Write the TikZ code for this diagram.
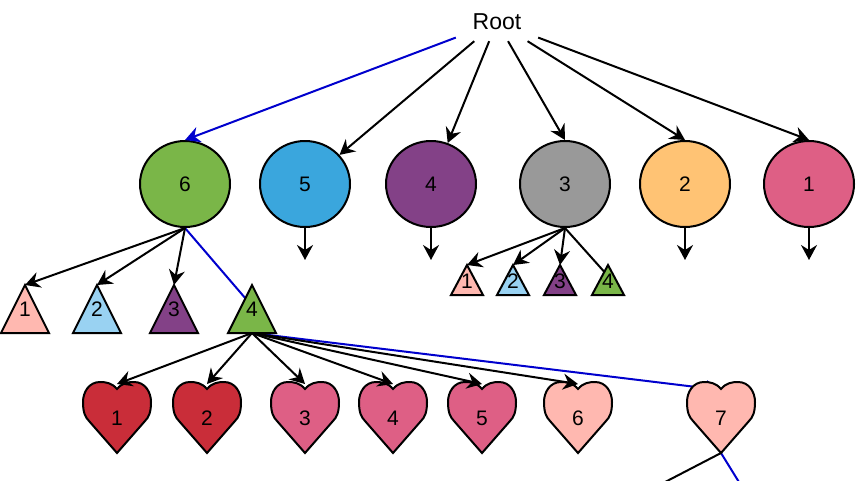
\documentclass[tikz,border=0pt]{standalone}
\usepackage{fontspec}
\setmainfont{Liberation Sans}
\usetikzlibrary{arrows.meta,shapes.geometric}
\pgfdeclarelayer{bg}
\pgfsetlayers{bg,main}
\definecolor{cgreen}{HTML}{7AB648}
\definecolor{cblue}{HTML}{3AA6DD}
\definecolor{cpurple}{HTML}{834187}
\definecolor{cgray}{HTML}{999999}
\definecolor{corange}{HTML}{FFC374}
\definecolor{cpink}{HTML}{DE5F85}
\definecolor{csalmon}{HTML}{FFB8B0}
\definecolor{clight}{HTML}{99D2F2}
\definecolor{cred}{HTML}{C92D39}
\definecolor{hl}{RGB}{0,0,205}
\tikzset{
  lw/.style={line width=2pt},
  circ/.style={ellipse, draw=black, lw, minimum width=90pt, minimum height=86pt, inner sep=0pt, font=\fontsize{21}{25}\selectfont},
  lbl/.style={inner sep=0pt, font=\fontsize{21}{25}\selectfont},
  arr/.style={lw, -{Stealth[length=15pt,width=16pt,inset=5pt]}},
  plain/.style={lw},
}
% triangle: name, cx, top y, half width, height, colour, label, label y
\newcommand\mytri[8]{%
  \filldraw[fill=#6, draw=black, lw, line join=miter] ({#2-#4},{#3+#5}) -- (#2,#3) -- ({#2+#4},{#3+#5}) -- cycle;
  \node[lbl] (#1) at (#2,#8) {#7};
  \coordinate (#1top) at (#2,#3);
  \coordinate (#1bot) at (#2,{#3+#5});
}
% heart: name, cx, colour, label
\newcommand\myheart[4]{%
  \begin{scope}[shift={(#2,418)}]
    \filldraw[fill=#3, draw=black, lw, line join=miter]
      (0,-29) .. controls (5,-35) and (11,-36) .. (17,-36)
      .. controls (28,-36) and (34,-26) .. (34,-16)
      .. controls (34,-6) and (32,-1) .. (28,3) -- (0,35) -- (-28,3)
      .. controls (-32,-1) and (-34,-6) .. (-34,-16)
      .. controls (-34,-26) and (-28,-36) .. (-17,-36)
      .. controls (-11,-36) and (-5,-35) .. (0,-29) -- cycle;
    \node[lbl] (#1) at (0,0) {#4};
    \coordinate (#1top) at (0,-34);
    \coordinate (#1tip) at (0,35);
  \end{scope}
}
\begin{document}
\begin{tikzpicture}[x=1pt,y=-1pt]
\useasboundingbox (0,0) rectangle (856,480);
\clip (0,0) rectangle (856,480);

\node[minimum width=82pt, minimum height=38pt, inner sep=0pt, font=\fontsize{23}{27}\selectfont] (root) at (497,22) {Root};

\node[circ, fill=cgreen]  (c6) at (185,184) {6};
\node[circ, fill=cblue]   (c5) at (305,184) {5};
\node[circ, fill=cpurple] (c4) at (431,184) {4};
\node[circ, fill=cgray]   (c3) at (565,184) {3};
\node[circ, fill=corange] (c2) at (685,184) {2};
\node[circ, fill=cpink]   (c1) at (809,184) {1};

\draw[arr, hl] (root) -- (c6.north);
\draw[arr] (root) -- (c5);
\draw[arr] (root) -- (c4);
\draw[arr] (root) -- (c3.north);
\draw[arr] (root) -- (c2.north);
\draw[arr] (root) -- (c1.north);

\coordinate (e5) at (305,260);
\coordinate (e4) at (431,260);
\coordinate (e2) at (685,260);
\coordinate (e1) at (809,260);
\draw[arr] (c5.south) -- (e5);
\draw[arr] (c4.south) -- (e4);
\draw[arr] (c2.south) -- (e2);
\draw[arr] (c1.south) -- (e1);

% big triangles under 6
\mytri{ta}{25}{285}{24}{48}{csalmon}{1}{309}
\mytri{tb}{97}{285}{24}{48}{clight}{2}{309}
\mytri{tc}{174}{285}{24}{48}{cpurple}{3}{309}
\mytri{td}{252}{285}{24}{48}{cgreen}{4}{309}
\draw[arr] (c6.south) -- (tatop);
\draw[arr] (c6.south) -- (tbtop);
\draw[arr] (c6.south) -- (tctop);
\coordinate (tdin) at (252,306);
\begin{pgfonlayer}{bg}
\draw[plain, hl] (c6.south) -- (tdin);
\end{pgfonlayer}

% small triangles under 3
\mytri{sa}{467}{265}{16}{30}{csalmon}{1}{281}
\mytri{sb}{513}{265}{16}{30}{clight}{2}{281}
\mytri{sc}{560}{265}{16}{30}{cpurple}{3}{281}
\mytri{sd}{608}{265}{16}{30}{cgreen}{4}{281}
\draw[arr] (c3.south) -- (satop);
\draw[arr] (c3.south) -- (sbtop);
\draw[arr] (c3.south) -- (sctop);
\coordinate (sdin) at (608,276);
\begin{pgfonlayer}{bg}
\draw[plain] (c3.south) -- (sdin);
\end{pgfonlayer}

% hearts
\myheart{ha}{117}{cred}{1}
\myheart{hb}{207}{cred}{2}
\myheart{hc}{305}{cpink}{3}
\myheart{hd}{393}{cpink}{4}
\myheart{he}{482}{cpink}{5}
\myheart{hf}{578}{csalmon}{6}
\myheart{hg}{721}{csalmon}{7}

\draw[arr] (tdbot) -- (hatop);
\draw[arr] (tdbot) -- (hbtop);
\draw[arr] (tdbot) -- (hctop);
\draw[arr] (tdbot) -- (hdtop);
\draw[arr] (tdbot) -- (hetop);
\draw[arr] (tdbot) -- (hftop);
\coordinate (hgin) at (721,390);
\coordinate (offa) at (615,508);
\coordinate (offb) at (755,508);
\begin{pgfonlayer}{bg}
\draw[arr, hl] (tdbot) -- (hgin);
\draw[plain, hl] (hgtip) -- (offb);
\end{pgfonlayer}
\draw[plain] (hgtip) -- (offa);
\end{tikzpicture}
\end{document}
